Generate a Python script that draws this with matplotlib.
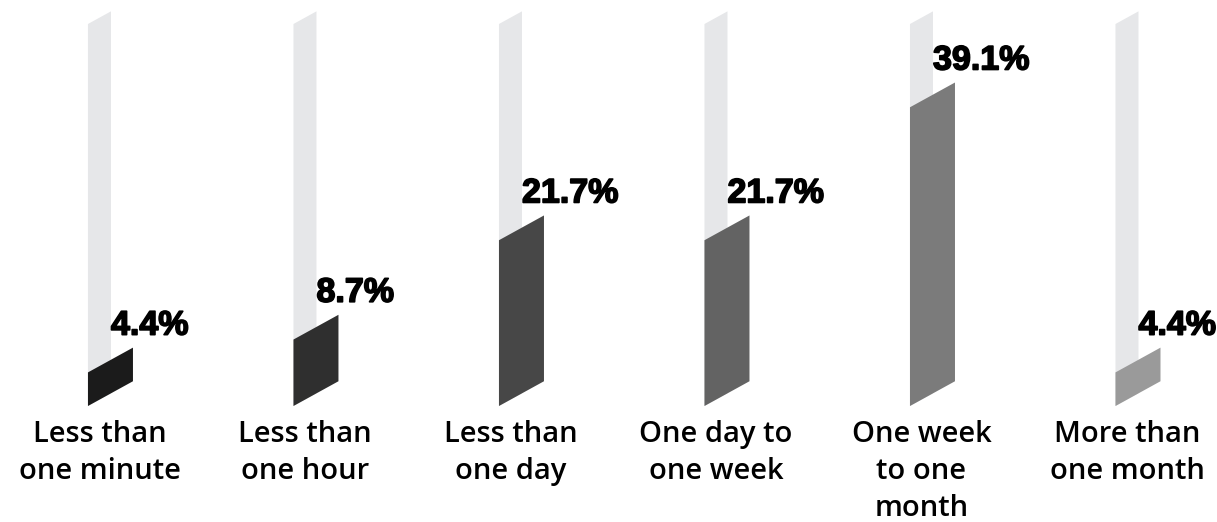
import matplotlib.pyplot as plt
from matplotlib.patches import Polygon
import matplotlib.patheffects as pe

categories = ['Less than\none minute', 'Less than\none hour', 'Less than\none day',
              'One day to\none week', 'One week\nto one\nmonth', 'More than\none month']
shares = [4.4, 8.7, 21.7, 21.7, 39.1, 4.4]  # %
labels = ['4.4%', '8.7%', '21.7%', '21.7%', '39.1%', '4.4%']
colors = ['#1b1b1b', '#2f2f2f', '#474747', '#636363', '#7b7b7b', '#9a9a9a']

track_max = 50      # height of the grey track, %
track_w = 0.112     # track width, category units
bar_w = 0.219       # bar width, category units
skew = 14.8         # rise of the top/bottom edges, % per category unit

fig = plt.figure(figsize=(12.17, 5.22), dpi=100)
ax = fig.add_axes([0, 0, 1, 1])
ax.set_xlim(-0.484, 5.438)
ax.set_ylim(-15.18, 53.14)
ax.axis('off')

for i, (v, lab, c, cat) in enumerate(zip(shares, labels, colors, categories)):
    xl = i - track_w / 2
    # grey track behind each bar
    ax.add_patch(Polygon([(xl, 0), (xl + track_w, skew * track_w),
                          (xl + track_w, track_max + skew * track_w), (xl, track_max)],
                         closed=True, facecolor='#e6e7e9', edgecolor='none', zorder=1))
    # slanted value bar
    xr = xl + bar_w
    ax.add_patch(Polygon([(xl, 0), (xr, skew * bar_w), (xr, v + skew * bar_w), (xl, v)],
                         closed=True, facecolor=c, edgecolor='none', zorder=2))
    ax.text(xl + track_w, v + skew * bar_w + 1.7, lab, ha='left', va='baseline',
            fontsize=24.5, fontweight='bold', family=['Liberation Sans', 'DejaVu Sans'],
            color='black', zorder=3,
            path_effects=[pe.withStroke(linewidth=1.2, foreground='black')])
    ax.text(i, -1.8, cat, ha='center', va='top', fontsize=21, fontweight='semibold',
            family=['Open Sans', 'DejaVu Sans'], color='black', linespacing=1.36)

fig.savefig('out.png', dpi=100, facecolor='white')
